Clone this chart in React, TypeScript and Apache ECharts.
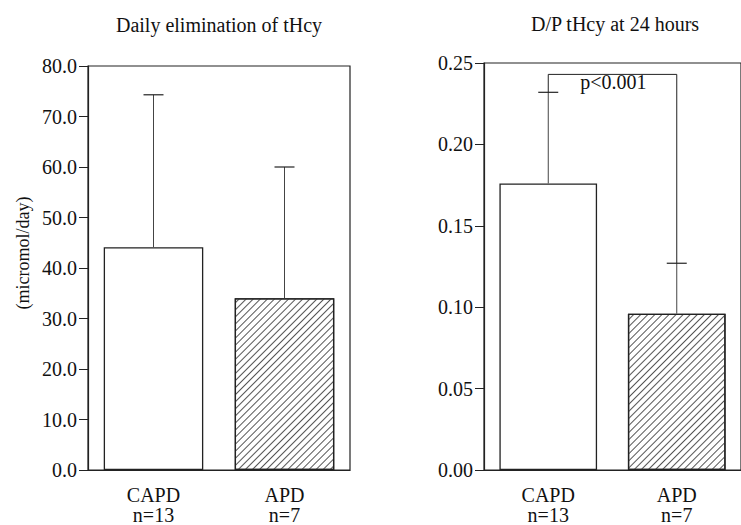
import React, { useEffect, useRef } from "react";
import * as echarts from "echarts";

const categories = ["CAPD", "APD"];
const sampleSizes = ["n=13", "n=7"];

const eliminationMean = [44.1, 34.0];
const eliminationSD = [30.2, 26.0];
const eliminationAxis = { min: 0, max: 80, interval: 10 };

const dpMean = [0.176, 0.096];
const dpSD = [0.056, 0.031];
const dpAxis = { min: 0, max: 0.25, interval: 0.05 };

const sigLevel = 0.243;
const sigLabel = "p<0.001";

const titles = ["Daily elimination of tHcy", "D/P tHcy at 24 hours"];
const yAxisName = "(micromol/day)";

const FONT = "Liberation Serif";
const INK = "#222";

const errorBarRender = (params: any, api: any) => {
  const i = api.value(0);
  const m = api.value(1);
  const s = api.value(2);
  const b = api.coord([i, m]);
  const t = api.coord([i, m + s]);
  return {
    type: "group",
    children: [
      { type: "line", shape: { x1: b[0], y1: b[1], x2: t[0], y2: t[1] }, style: { stroke: "#444", lineWidth: 1 } },
      { type: "line", shape: { x1: t[0] - 10, y1: t[1], x2: t[0] + 10, y2: t[1] }, style: { stroke: INK, lineWidth: 1.2 } },
    ],
  };
};

const bracketRender = (params: any, api: any) => {
  const level = api.value(1);
  const a0 = api.coord([0, dpMean[0] + dpSD[0]]);
  const a1 = api.coord([0, level]);
  const b1 = api.coord([1, level]);
  const b0 = api.coord([1, dpMean[1] + dpSD[1]]);
  return {
    type: "group",
    children: [
      {
        type: "polyline",
        shape: { points: [a0, a1, b1, b0] },
        style: { stroke: INK, lineWidth: 1, fill: "none" },
      },
      {
        type: "text",
        x: a1[0] + 32,
        y: a1[1] + 8,
        style: { text: sigLabel, fontSize: 20, fontFamily: FONT, fill: "#111", align: "left", verticalAlign: "middle" },
      },
    ],
  };
};

const xLabels = categories.map((c, i) => `${c}\n${sampleSizes[i]}`);

function makeXAxis(gridIndex: number) {
  return {
    type: "category",
    gridIndex,
    data: xLabels,
    axisTick: { show: false },
    axisLine: { lineStyle: { color: INK, width: 1.2 } },
    axisLabel: { fontSize: 20, fontFamily: FONT, color: "#111", lineHeight: 20, margin: 15 },
  };
}

function makeYAxis(gridIndex: number, ax: any, digits: number) {
  return {
    type: "value",
    gridIndex,
    min: ax.min,
    max: ax.max,
    interval: ax.interval,
    splitLine: { show: false },
    axisLine: { show: true, lineStyle: { color: INK, width: 1.2 } },
    axisTick: { show: true, length: 9, lineStyle: { color: INK } },
    axisLabel: {
      fontSize: 20,
      fontFamily: FONT,
      color: "#111",
      margin: 11,
      formatter: (v: number) => v.toFixed(digits),
    },
  };
}

const barStyle = (hatched: boolean) => ({
  color: "#fff",
  borderColor: INK,
  borderWidth: 1.3,
  decal: hatched
    ? {
        symbol: "rect",
        symbolSize: 1,
        dashArrayX: [[1, 0]],
        dashArrayY: [1, 4],
        rotation: -Math.PI / 4,
        color: "#555",
        backgroundColor: "#fff",
      }
    : undefined,
});

export default function App() {
  const ref = useRef<HTMLDivElement>(null);
  useEffect(() => {
    if (!ref.current) return;
    const chart = echarts.init(ref.current, undefined, { renderer: "svg" });
    const option: any = {
      animation: false,
      backgroundColor: "#fff",
      textStyle: { fontFamily: FONT },
      grid: [
        { left: 88, top: 66, width: 262, height: 407, show: true, borderColor: INK, borderWidth: 1.2, backgroundColor: "transparent" },
        { left: 484, top: 63, width: 262, height: 408, show: true, borderColor: INK, borderWidth: 1.2, backgroundColor: "transparent" },
      ],
      xAxis: [makeXAxis(0), makeXAxis(1)],
      yAxis: [makeYAxis(0, eliminationAxis, 1), makeYAxis(1, dpAxis, 2)],
      graphic: [
        { type: "text", x: 219, y: 25, style: { text: titles[0], fontSize: 20, fontFamily: FONT, fill: "#111", align: "center", verticalAlign: "middle" } },
        { type: "text", x: 615, y: 24, style: { text: titles[1], fontSize: 20, fontFamily: FONT, fill: "#111", align: "center", verticalAlign: "middle" } },
        { type: "text", x: 23, y: 253, rotation: Math.PI / 2, style: { text: yAxisName, fontSize: 18, fontFamily: FONT, fill: "#111", align: "center", verticalAlign: "middle" } },
      ],
      series: [
        {
          type: "bar",
          xAxisIndex: 0,
          yAxisIndex: 0,
          barWidth: "76%",
          data: eliminationMean.map((v, i) => ({ value: v, itemStyle: barStyle(i === 1) })),
        },
        {
          type: "custom",
          xAxisIndex: 0,
          yAxisIndex: 0,
          renderItem: errorBarRender,
          data: eliminationMean.map((v, i) => [i, v, eliminationSD[i]]),
          z: 3,
        },
        {
          type: "bar",
          xAxisIndex: 1,
          yAxisIndex: 1,
          barWidth: "76%",
          data: dpMean.map((v, i) => ({ value: v, itemStyle: barStyle(i === 1) })),
        },
        {
          type: "custom",
          xAxisIndex: 1,
          yAxisIndex: 1,
          renderItem: errorBarRender,
          data: dpMean.map((v, i) => [i, v, dpSD[i]]),
          z: 3,
        },
        {
          type: "custom",
          xAxisIndex: 1,
          yAxisIndex: 1,
          renderItem: bracketRender,
          data: [[0, sigLevel]],
          z: 3,
        },
      ],
    };
    chart.setOption(option);
    return () => chart.dispose();
  }, []);
  return <div ref={ref} style={{ position: "fixed", left: 0, top: 0, width: 741, height: 525 }} />;
}
